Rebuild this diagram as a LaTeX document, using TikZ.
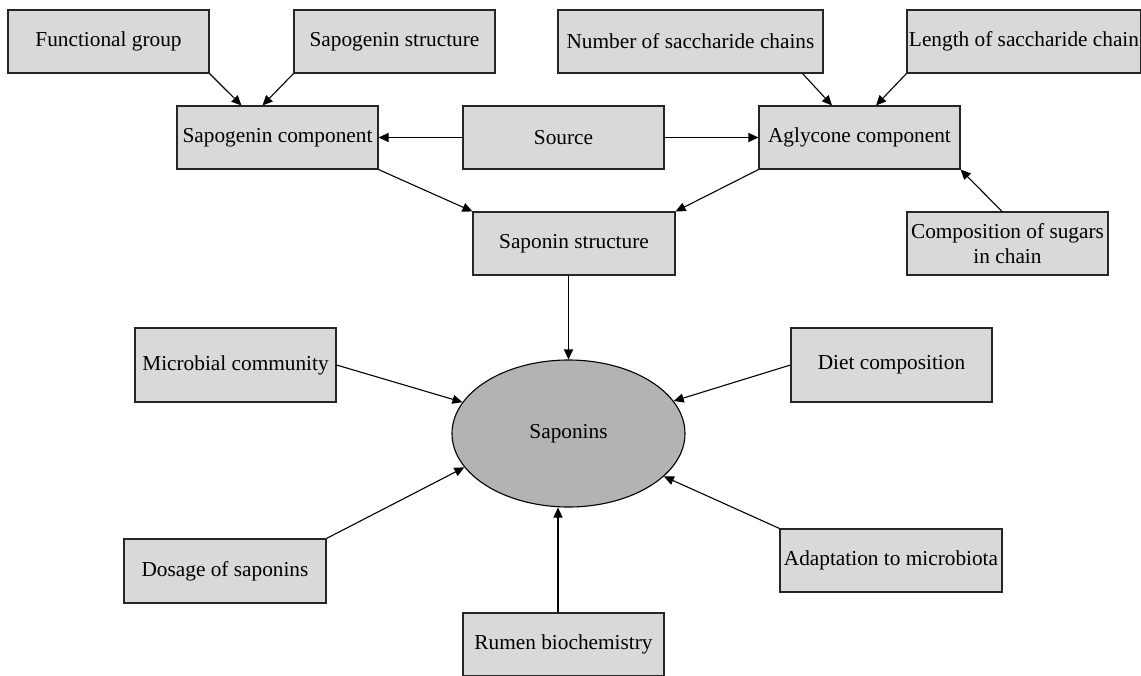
\documentclass[tikz,border=0pt]{standalone}
\usepackage{fontspec}
\setmainfont{Liberation Serif}
\usetikzlibrary{arrows.meta,shapes.geometric}

\definecolor{boxgray}{HTML}{D9D9D9}
\definecolor{ovalgray}{HTML}{B3B3B3}

\tikzset{
  factor/.style={rectangle, draw=black!85, fill=boxgray, line width=1.1pt,
    inner sep=1pt, align=center, font=\fontsize{21.3}{24.5}\selectfont},
  core/.style={ellipse, draw=black, fill=ovalgray, line width=1.1pt,
    inner sep=0pt, minimum width=233pt, minimum height=147pt,
    font=\fontsize{21.3}{24.5}\selectfont},
  link/.style={draw=black, line width=1.1pt, -{Triangle[length=10pt,width=9pt]}}
}

\begin{document}
\begin{tikzpicture}[x=1pt, y=-1pt]

      \useasboundingbox (0,0) rectangle (1141,675);

      % Boxes of the structure part
      \foreach \name/\x/\y/\w/\txt in {fg/108.5/41.5/201/Functional group,
                                       sgs/394.5/41.5/201/Sapogenin structure,
                                       num/690.5/41.5/265/Number of saccharide chains,
                                       len/1024/41.5/234/Length of saccharide chain,
                                       scomp/277.5/137.5/201/Sapogenin component,
                                       src/563.5/137.5/201/Source,
                                       agc/859.5/137.5/201/Aglycone component,
                                       ss/574/243.5/202/Saponin structure} {
          \node[factor, minimum width=\w pt, minimum height=63pt] (\name) at (\x, \y) {\txt};
      }
      \node[factor, minimum width=201pt, minimum height=63pt] (comp) at (1007.5, 243.5) {Composition of sugars\\in chain};

      % Saponins in the middle
      \node[core] (sap) at (568.5, 433.5) {Saponins};

      % Factors around the saponins
      \foreach \name/\x/\y/\w/\h/\txt in {mic/235.5/365/201/74/Microbial community,
                                          diet/891.5/365/201/74/Diet composition,
                                          dos/225/571/202/64/Dosage of saponins,
                                          ada/891/560.5/222/63/Adaptation to microbiota,
                                          rum/563.5/644.5/201/63/Rumen biochemistry} {
          \node[factor, minimum width=\w pt, minimum height=\h pt] (\name) at (\x, \y) {\txt};
      }

      % Arrows of the structure part
      \draw[link] (fg.south east) -- ([xshift=-36pt]scomp.north);
      \draw[link] (sgs.south west) -- ([xshift=-15pt]scomp.north);
      \draw[link] ([xshift=-21pt]num.south east) -- ([xshift=-27.5pt]agc.north);
      \draw[link] (len.south west) -- ([xshift=16.5pt]agc.north);
      \draw[link] ([xshift=-5.5pt]comp.north) -- (agc.south east);
      \draw[link] (src.west) -- (scomp.east);
      \draw[link] (src.east) -- (agc.west);
      \draw[link] (scomp.south east) -- (ss.north west);
      \draw[link] (agc.south west) -- (ss.north east);
      \draw[link] (sap.north |- ss.south) -- (sap.north);

      % Arrows into the saponins
      \foreach \from in {mic.east, diet.west, ada.north west} {
          \draw[link] (\from) -- (sap);
      }
      \draw[link] (dos.north east) -- (sap.198);
      \draw[link] ([xshift=-5.5pt]rum.north) -- ([xshift=-5.5pt]rum.north |- sap.south);

\end{tikzpicture}
\end{document}
